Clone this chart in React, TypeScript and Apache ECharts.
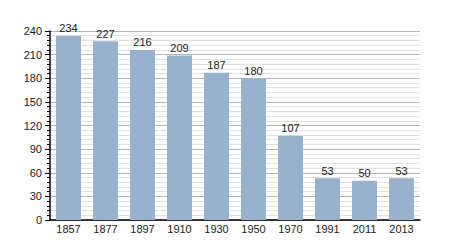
import React, { useEffect, useRef } from "react";
import * as echarts from "echarts";

const categories = ["1857", "1877", "1897", "1910", "1930", "1950", "1970", "1991", "2011", "2013"];
const values = [234, 227, 216, 209, 187, 180, 107, 53, 50, 53];

export default function App() {
  const ref = useRef<HTMLDivElement>(null);
  useEffect(() => {
    const chart = echarts.init(ref.current!, null, { renderer: "svg" });
    chart.setOption({
      animation: false,
      grid: { left: 50, right: 30, top: 31, bottom: 30 },
      textStyle: { fontFamily: "Liberation Sans, Arial, sans-serif" },
      xAxis: {
        type: "category",
        data: categories,
        axisLine: { lineStyle: { color: "#000", width: 1.5 } },
        axisTick: { show: false },
        axisLabel: { color: "#222", fontSize: 11, margin: 3 },
      },
      yAxis: {
        type: "value",
        min: 0,
        max: 240,
        interval: 30,
        axisLine: { show: true, lineStyle: { color: "#000", width: 1.5 } },
        axisTick: { show: true, length: 5, lineStyle: { color: "#000" } },
        minorTick: { show: true, splitNumber: 5, length: 3, lineStyle: { color: "#000" } },
        axisLabel: { color: "#222", fontSize: 11, margin: 8 },
        splitLine: { show: true, lineStyle: { color: "#b5b5b5", width: 1 } },
        minorSplitLine: { show: true, lineStyle: { color: "#e2e2e2", width: 1 } },
      },
      series: [
        {
          type: "bar",
          data: values,
          barWidth: 25,
          itemStyle: { color: "#98b2cd" },
          label: { show: true, position: "top", color: "#222", fontSize: 11, distance: 2 },
        },
      ],
    });
    return () => chart.dispose();
  }, []);
  return <div ref={ref} style={{ position: "absolute", left: 0, top: 0, width: 450, height: 250 }} />;
}
